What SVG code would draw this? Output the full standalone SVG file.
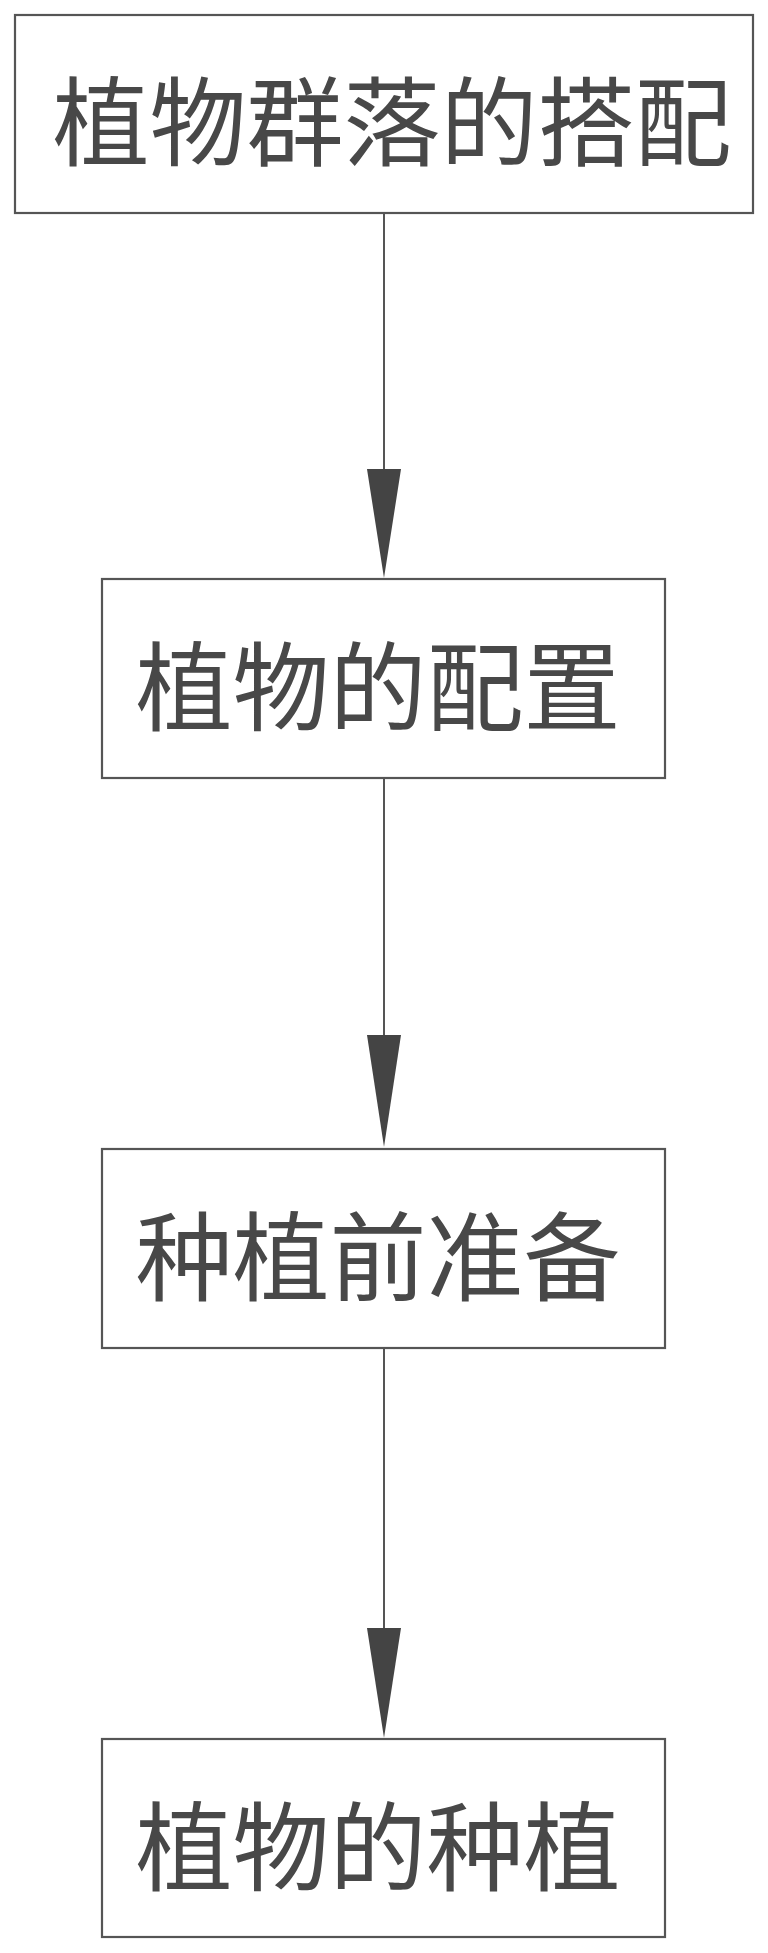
<svg xmlns="http://www.w3.org/2000/svg" width="768" height="1953" viewBox="0 0 768 1953">
<style>
.box{fill:#fff;stroke:#555;stroke-width:2.2}
.lbl{font-family:"Noto Sans CJK SC","Noto Sans CJK JP",sans-serif;font-size:97px;fill:#484848;text-anchor:middle;dominant-baseline:central}
.edge{stroke:#555;stroke-width:2;fill:none}
.head{fill:#444}
</style>
<rect width="768" height="1953" fill="#fff"/>
<g id="connectors">
<line class="edge" x1="384" y1="213" x2="384" y2="472"/>
<polygon class="head" points="367,469 401,469 384,578"/>
<line class="edge" x1="384" y1="778" x2="384" y2="1038"/>
<polygon class="head" points="367,1035 401,1035 384,1147"/>
<line class="edge" x1="384" y1="1348" x2="384" y2="1631"/>
<polygon class="head" points="367,1628 401,1628 384,1738"/>
</g>
<g id="node1">
<rect class="box" x="15" y="15" width="738" height="198"/>
<text class="lbl" x="392" y="115">植物群落的搭配</text>
</g>
<g id="node2">
<rect class="box" x="102" y="579" width="563" height="199"/>
<text class="lbl" x="378" y="680">植物的配置</text>
</g>
<g id="node3">
<rect class="box" x="102" y="1149" width="563" height="199"/>
<text class="lbl" x="378" y="1250">种植前准备</text>
</g>
<g id="node4">
<rect class="box" x="102" y="1739" width="563" height="198"/>
<text class="lbl" x="378" y="1840">植物的种植</text>
</g>
</svg>
